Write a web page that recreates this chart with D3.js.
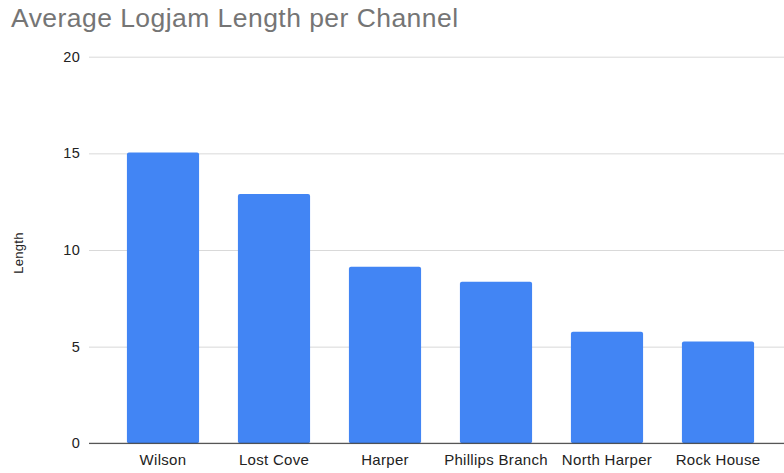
<!DOCTYPE html>
<html>
<head>
<meta charset="utf-8">
<script src="https://cdn.jsdelivr.net/npm/d3@7"></script>
<style>
  html, body { margin: 0; padding: 0; background: #fff; }
  svg { display: block; font-family: "Liberation Sans", Arial, sans-serif; }
</style>
</head>
<body>
<svg id="chart" width="784" height="473"></svg>
<script>
// Channel names and their average logjam lengths
const channels = ["Wilson", "Lost Cove", "Harper", "Phillips Branch", "North Harper", "Rock House"];
const lengths = [15.05, 12.9, 9.13, 8.36, 5.77, 5.27];
const yTicks = [0, 5, 10, 15, 20];

const svg = d3.select("#chart");
const W = 784, H = 473;

const x = d3.scaleBand()
  .domain(channels)
  .range([107.5, 773.5])
  .paddingInner(0.35)
  .paddingOuter(0.175);

const y = d3.scaleLinear()
  .domain([0, 20])
  .range([443.3, 56.7]);

// Title
svg.append("text")
  .attr("x", 11)
  .attr("y", 27)
  .attr("fill", "#757575")
  .attr("font-size", 26.5)
  .attr("letter-spacing", 0.45)
  .text("Average Logjam Length per Channel");

// Horizontal gridlines with tick labels
const yAxis = d3.axisLeft(y)
  .tickValues(yTicks)
  .tickSize(-(W - 89))
  .tickPadding(9)
  .tickFormat(d3.format("d"));

const gy = svg.append("g")
  .attr("transform", "translate(89,0)")
  .call(yAxis);
gy.select(".domain").remove();
gy.selectAll(".tick line").attr("stroke", "#d9d9d9").attr("stroke-width", 1);
gy.selectAll(".tick text")
  .attr("fill", "#222")
  .attr("font-size", 14.5)
  .attr("letter-spacing", 0.3)
  .attr("font-family", "Liberation Sans, Arial, sans-serif");

// Bars
svg.append("g")
  .selectAll("rect")
  .data(channels.map((c, i) => ({ c, v: lengths[i] })))
  .join("rect")
  .attr("x", d => x(d.c))
  .attr("y", d => y(d.v))
  .attr("width", x.bandwidth())
  .attr("height", d => y(0) - y(d.v))
  .attr("rx", 2)
  .attr("fill", "#4285f4");

// Baseline
svg.append("line")
  .attr("x1", 89).attr("x2", W)
  .attr("y1", y(0)).attr("y2", y(0))
  .attr("stroke", "#333")
  .attr("stroke-width", 1);

// Category labels
const xAxis = d3.axisBottom(x).tickSize(0).tickPadding(11);
const gx = svg.append("g")
  .attr("transform", `translate(0,${y(0)})`)
  .call(xAxis);
gx.select(".domain").remove();
gx.selectAll(".tick text")
  .attr("fill", "#222")
  .attr("font-size", 15)
  .attr("letter-spacing", 0.3)
  .attr("font-family", "Liberation Sans, Arial, sans-serif");

// Y axis title
svg.append("text")
  .attr("transform", `translate(23,253) rotate(-90)`)
  .attr("text-anchor", "middle")
  .attr("fill", "#222")
  .attr("font-size", 13)
  .attr("letter-spacing", 0.3)
  .text("Length");
</script>
</body>
</html>
